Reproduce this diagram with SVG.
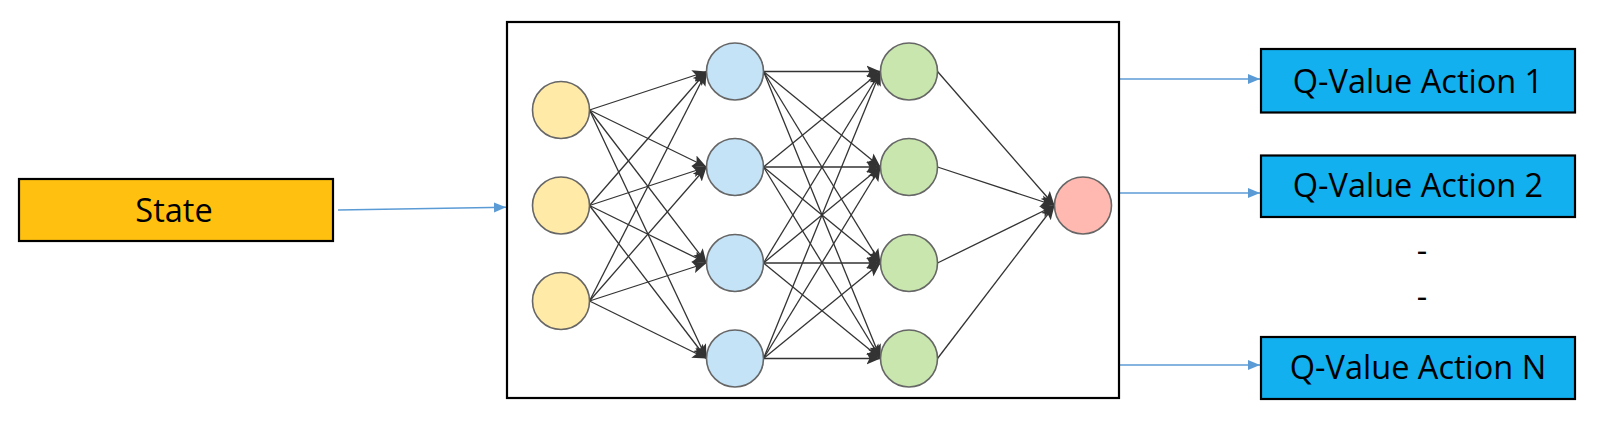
<svg xmlns="http://www.w3.org/2000/svg" width="1616" height="425" viewBox="0 0 1616 425">
<style>
.box{stroke:#000;stroke-width:2.2}
.lbl{font-family:"Open Sans","Liberation Sans",Arial,sans-serif;font-size:32.5px;fill:#000;text-anchor:middle}
.n{stroke:#666;stroke-width:1.6}
.y{fill:#FFEAA8}.b{fill:#C4E3F7}.g{fill:#C8E6AD}.r{fill:#FFB9B0}
.e{stroke:#333;stroke-width:1.3;fill:none;marker-end:url(#ah)}
.o{stroke:#5B9BD5;stroke-width:1.6;fill:none;marker-end:url(#ab)}
</style>
<defs>
<marker id="ah" markerUnits="userSpaceOnUse" markerWidth="15" markerHeight="13" refX="14" refY="6.5" orient="auto" viewBox="0 0 15 13">
<path d="M0,0.5 L14,6.5 L0,12.5 L3,6.5 z" fill="#333"/>
</marker>
<marker id="ab" markerUnits="userSpaceOnUse" markerWidth="13" markerHeight="11" refX="12" refY="5.5" orient="auto" viewBox="0 0 13 11">
<path d="M0,0.5 L12,5.5 L0,10.5 z" fill="#5B9BD5"/>
</marker>
</defs>
<g id="connectors">
<line class="o" x1="338" y1="210" x2="506" y2="207.3"/>
<line class="o" x1="1119" y1="79" x2="1260" y2="79"/>
<line class="o" x1="1119" y1="193" x2="1260" y2="193"/>
<line class="o" x1="1119" y1="365" x2="1260" y2="365"/>
<line class="e" x1="589.5" y1="110" x2="706.5" y2="71.5"/>
<line class="e" x1="589.5" y1="110" x2="706.5" y2="167"/>
<line class="e" x1="589.5" y1="110" x2="706.5" y2="263"/>
<line class="e" x1="589.5" y1="110" x2="706.5" y2="358.5"/>
<line class="e" x1="589.5" y1="205.5" x2="706.5" y2="71.5"/>
<line class="e" x1="589.5" y1="205.5" x2="706.5" y2="167"/>
<line class="e" x1="589.5" y1="205.5" x2="706.5" y2="263"/>
<line class="e" x1="589.5" y1="205.5" x2="706.5" y2="358.5"/>
<line class="e" x1="589.5" y1="301" x2="706.5" y2="71.5"/>
<line class="e" x1="589.5" y1="301" x2="706.5" y2="167"/>
<line class="e" x1="589.5" y1="301" x2="706.5" y2="263"/>
<line class="e" x1="589.5" y1="301" x2="706.5" y2="358.5"/>
<line class="e" x1="763.5" y1="71.5" x2="880.5" y2="71.5"/>
<line class="e" x1="763.5" y1="71.5" x2="880.5" y2="167"/>
<line class="e" x1="763.5" y1="71.5" x2="880.5" y2="263"/>
<line class="e" x1="763.5" y1="71.5" x2="880.5" y2="358.5"/>
<line class="e" x1="763.5" y1="167" x2="880.5" y2="71.5"/>
<line class="e" x1="763.5" y1="167" x2="880.5" y2="167"/>
<line class="e" x1="763.5" y1="167" x2="880.5" y2="263"/>
<line class="e" x1="763.5" y1="167" x2="880.5" y2="358.5"/>
<line class="e" x1="763.5" y1="263" x2="880.5" y2="71.5"/>
<line class="e" x1="763.5" y1="263" x2="880.5" y2="167"/>
<line class="e" x1="763.5" y1="263" x2="880.5" y2="263"/>
<line class="e" x1="763.5" y1="263" x2="880.5" y2="358.5"/>
<line class="e" x1="763.5" y1="358.5" x2="880.5" y2="71.5"/>
<line class="e" x1="763.5" y1="358.5" x2="880.5" y2="167"/>
<line class="e" x1="763.5" y1="358.5" x2="880.5" y2="263"/>
<line class="e" x1="763.5" y1="358.5" x2="880.5" y2="358.5"/>
<line class="e" x1="937.5" y1="71.5" x2="1054.5" y2="205.5"/>
<line class="e" x1="937.5" y1="167" x2="1054.5" y2="205.5"/>
<line class="e" x1="937.5" y1="263" x2="1054.5" y2="205.5"/>
<line class="e" x1="937.5" y1="358.5" x2="1054.5" y2="205.5"/>
</g>
<g id="state"><rect class="box" x="19" y="179" width="314" height="62" fill="#FFC010"/><text class="lbl" x="174" y="222">State</text></g>
<g id="network"><rect x="507" y="22" width="612" height="376" fill="none" stroke="#000" stroke-width="2.2"/></g>
<g id="in1"><circle class="n y" cx="561" cy="110" r="28.5"/></g>
<g id="in2"><circle class="n y" cx="561" cy="205.5" r="28.5"/></g>
<g id="in3"><circle class="n y" cx="561" cy="301" r="28.5"/></g>
<g id="h1a"><circle class="n b" cx="735" cy="71.5" r="28.5"/></g>
<g id="h1b"><circle class="n b" cx="735" cy="167" r="28.5"/></g>
<g id="h1c"><circle class="n b" cx="735" cy="263" r="28.5"/></g>
<g id="h1d"><circle class="n b" cx="735" cy="358.5" r="28.5"/></g>
<g id="h2a"><circle class="n g" cx="909" cy="71.5" r="28.5"/></g>
<g id="h2b"><circle class="n g" cx="909" cy="167" r="28.5"/></g>
<g id="h2c"><circle class="n g" cx="909" cy="263" r="28.5"/></g>
<g id="h2d"><circle class="n g" cx="909" cy="358.5" r="28.5"/></g>
<g id="out"><circle class="n r" cx="1083" cy="205.5" r="28.5"/></g>
<g id="q1"><rect class="box" x="1261" y="49" width="314" height="63.5" fill="#12B0EF"/><text class="lbl" x="1418" y="92.5">Q-Value Action 1</text></g>
<g id="q2"><rect class="box" x="1261" y="155.5" width="314" height="61.5" fill="#12B0EF"/><text class="lbl" x="1418" y="196.5">Q-Value Action 2</text></g>
<g id="dots"><text class="lbl" x="1422" y="262">-</text><text class="lbl" x="1422" y="308">-</text></g>
<g id="qn"><rect class="box" x="1261" y="337" width="314" height="62" fill="#12B0EF"/><text class="lbl" x="1418" y="379">Q-Value Action N</text></g>
</svg>
